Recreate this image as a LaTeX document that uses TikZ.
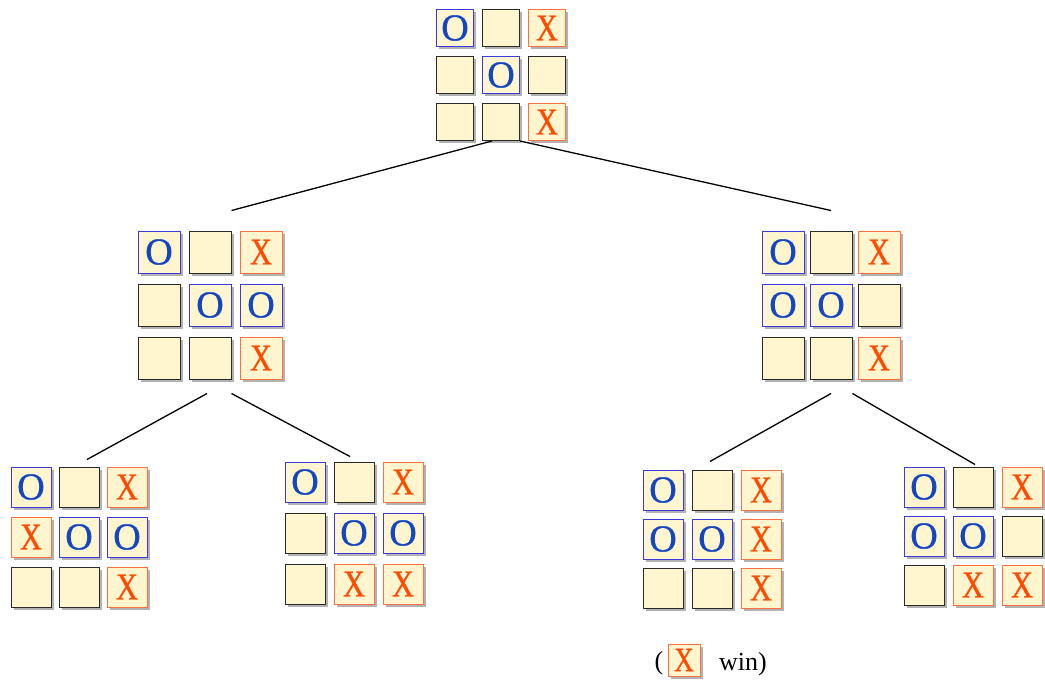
\documentclass[tikz,border=0pt]{standalone}
\usepackage{fontspec}
\setmainfont{Liberation Serif}
\newfontfamily\symfam[FakeBold=0.8]{Liberation Serif}
\usetikzlibrary{shadows,calc}
\definecolor{cream}{HTML}{FFF6CF}
\definecolor{emptyedge}{HTML}{2A2A2A}
\definecolor{oedge}{HTML}{3A3ADD}
\definecolor{otext}{HTML}{1446C0}
\definecolor{xedge}{HTML}{FF7040}
\definecolor{xtext}{HTML}{FF4A00}
\tikzset{
  cellbase/.style={minimum size=#1, inner sep=0pt, fill=cream, line width=1pt,
    drop shadow={shadow xshift=2.5pt, shadow yshift=-2.5pt, opacity=0.3, fill=black}},
  cellE/.style={draw=emptyedge},
  cellO/.style={draw=oedge, text=otext},
  cellX/.style={draw=xedge, text=xtext},
  link/.style={line width=1.3pt, black},
  symfont/.style={font=\symfam\fontsize{38}{38}\selectfont},
}
\newcommand\symE{}
\newcommand\symO{O}
\newcommand\symX{\scalebox{0.8}[1]{X}}
% prefix, cx, cy, xpitch, ypitch, size, entries
\newcommand\tttboard[7]{%
  \foreach \v [count=\i] in {#7} {
    \pgfmathtruncatemacro\r{div(\i-1,3)}
    \pgfmathtruncatemacro\c{mod(\i-1,3)}
    \node[cellbase=#6, cell\v, symfont] (#1-\i) at ({#2+(\c-1)*#4},{#3+(\r-1)*#5}) {\csname sym\v\endcsname};
  }}
\begin{document}
\begin{tikzpicture}[x=1pt,y=-1pt]
\useasboundingbox (0,0) rectangle (1045,681);
\tttboard{t}{501}{75}{46}{47}{37pt}{O,E,X,E,O,E,E,E,X}
\tttboard{l}{210}{305}{51}{53}{42pt}{O,E,X,E,O,O,E,E,X}
\tttboard{r}{831}{305}{48}{53}{42pt}{O,E,X,O,O,E,E,E,X}
\tttboard{a}{79}{537}{48}{50}{40pt}{O,E,X,X,O,O,E,E,X}
\tttboard{b}{354}{533}{49}{51}{40pt}{O,E,X,E,O,O,E,X,X}
\tttboard{c}{712}{539}{49}{49}{40pt}{O,E,X,O,O,X,E,E,X}
\tttboard{d}{973}{536}{49}{49}{40pt}{O,E,X,O,O,E,E,X,X}
% connectors
\draw[link] ([xshift=-9pt]t-8.south) -- ([yshift=20pt]l-2.north east);
\draw[link] (t-8.south east) -- ([yshift=20pt]r-2.north);
\draw[link] ([xshift=-3pt,yshift=-14pt]l-8.south) -- ([xshift=8pt,yshift=7pt]a-2.north);
\draw[link] ([yshift=-14pt]l-8.south east) -- ([xshift=-4pt,yshift=5pt]b-2.north);
\draw[link] ([yshift=-14pt]r-8.south) -- ([xshift=-2pt,yshift=8pt]c-2.north);
\draw[link] ([yshift=-14pt]r-8.south east) -- ([xshift=2pt,yshift=2pt]d-2.north);
% legend
\node[font=\fontsize{26}{26}\selectfont, inner sep=0pt] (lp) at (659,663) {(};
\node[cellbase=32pt, cellX, font=\symfam\fontsize{34}{34}\selectfont] (lx) at (684,660) {\symX};
\node[font=\fontsize{26}{26}\selectfont, inner sep=0pt, anchor=west] (lw) at (719,664) {win)};
\end{tikzpicture}
\end{document}
